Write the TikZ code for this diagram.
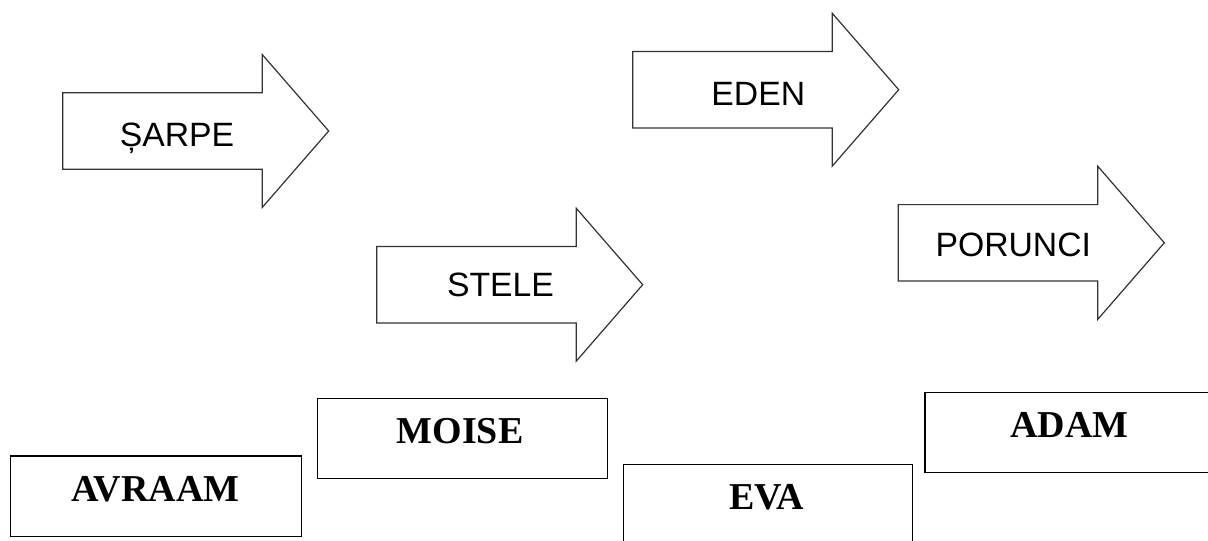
\documentclass[tikz,border=0pt]{standalone}
\usepackage{fontspec}
\newfontfamily\arrowfont{Liberation Sans}
\newfontfamily\boxfont{Liberation Serif}
\begin{document}
\begin{tikzpicture}[x=0.75pt,y=-0.75pt,
  arr/.style={draw=black!80, line width=0.9pt, fill=white, line join=miter},
  boxframe/.style={draw=black, line width=1pt, fill=white},
  arrlabel/.style={anchor=base, inner sep=0pt, font=\arrowfont\fontsize{25.3pt}{30pt}\selectfont},
  boxlabel/.style={anchor=base, inner sep=0pt, font=\boxfont\bfseries\fontsize{28.5pt}{34pt}\selectfont},
  pics/bigarrow/.style={code={
    \draw[arr] (0,-38.2) -- (199.5,-38.2) -- (199.5,-76.5) -- (266,0) -- (199.5,76.5) -- (199.5,38.2) -- (0,38.2) -- cycle;
  }}]
\useasboundingbox (0,0) rectangle (1208,540);
\fill[white] (0,0) rectangle (1208,540);
\clip (0,0) rectangle (1208,540);

% arrows
\pic at (62.7,131) {bigarrow};
\pic at (376.7,284.7) {bigarrow};
\pic at (632.7,89.7) {bigarrow};
\pic at (898.3,242.8) {bigarrow};

\node[arrlabel] (sarpe) at (177,146) {ȘARPE};
\node[arrlabel] (stele) at (500.5,296.7) {STELE};
\node[arrlabel] (eden) at (758.3,105) {EDEN};
\node[arrlabel] (porunci) at (1013.3,256) {PORUNCI};

% boxes
\draw[boxframe] (10.7,456) rectangle (301.7,536.7);
\draw[boxframe] (317.3,398.3) rectangle (607.7,478.3);
\draw[boxframe] (623.3,464.3) rectangle (912.7,545);
\draw[boxframe] (925,392.3) rectangle (1215,472.3);

\node[boxlabel] (avraam) at (155.5,501.7) {AVRAAM};
\node[boxlabel] (moise) at (460,443.3) {MOISE};
\node[boxlabel] (eva) at (766.7,509.3) {EVA};
\node[boxlabel] (adam) at (1069.3,437.7) {ADAM};
\end{tikzpicture}
\end{document}
